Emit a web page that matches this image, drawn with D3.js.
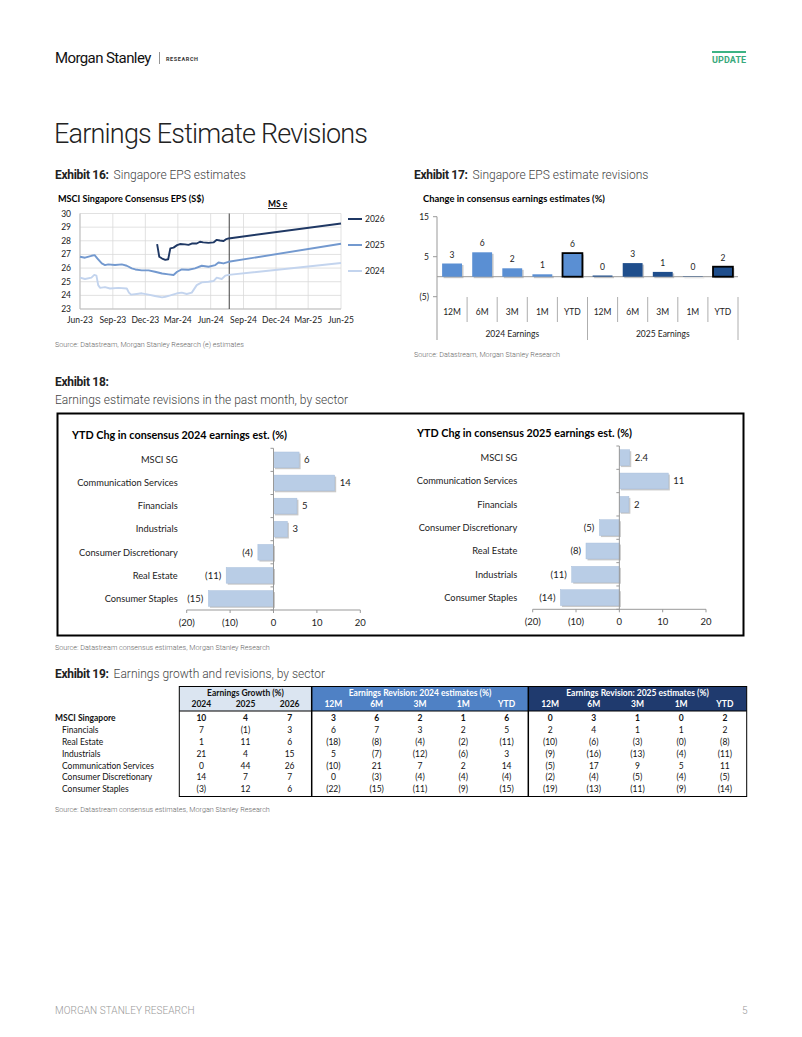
<!DOCTYPE html>
<html><head><meta charset="utf-8">
<script src="https://cdn.jsdelivr.net/npm/d3@7/dist/d3.min.js"></script>
<style>html,body{margin:0;padding:0;background:#fff}svg{display:block}</style>
</head><body>
<svg id="page" width="802" height="1037"></svg>
<script>
// ---------------- DATA ----------------
// Exhibit 16: MSCI Singapore consensus EPS (S$)
const eps2026 = [["2024-01-03",27.76],["2024-01-09",26.83],["2024-01-17",26.7],["2024-01-26",26.6],["2024-02-03",26.65],["2024-02-09",27.44],["2024-02-18",27.5],["2024-02-28",27.68],["2024-03-07",27.76],["2024-03-21",27.74],["2024-03-31",27.7],["2024-04-09",27.8],["2024-04-23",27.8],["2024-05-02",27.93],["2024-05-11",27.88],["2024-05-26",27.85],["2024-06-09",27.88],["2024-06-18",28.07],["2024-06-27",28.02],["2024-07-07",27.98],["2024-07-13",28.1],["2024-07-21",28.17],["2025-06-01",29.27]];
const eps2025 = [["2023-06-01",26.83],["2023-06-15",26.76],["2023-07-03",26.9],["2023-07-12",26.95],["2023-07-20",26.7],["2023-08-01",26.34],["2023-08-10",26.22],["2023-08-19",26.27],["2023-09-07",26.22],["2023-09-26",26.27],["2023-10-10",26.17],["2023-10-24",25.98],["2023-11-03",25.9],["2023-11-21",25.83],["2023-12-10",25.83],["2023-12-28",25.73],["2024-01-17",25.6],["2024-02-04",25.54],["2024-02-18",25.49],["2024-02-28",25.73],["2024-03-12",25.9],["2024-03-31",25.88],["2024-04-18",25.98],["2024-05-07",26.17],["2024-05-26",26.1],["2024-06-14",26.22],["2024-06-23",26.41],["2024-07-07",26.34],["2024-07-21",26.46],["2025-06-01",27.78]];
const eps2024 = [["2023-06-01",25.3],["2023-06-15",25.2],["2023-07-03",25.3],["2023-07-11",25.5],["2023-07-17",25.45],["2023-07-22",24.75],["2023-07-27",24.55],["2023-08-10",24.6],["2023-08-24",24.5],["2023-09-17",24.55],["2023-10-10",24.5],["2023-10-16",24.2],["2023-10-22",24.05],["2023-11-07",24.1],["2023-11-21",24.15],["2023-12-10",24.05],["2023-12-28",23.95],["2024-01-17",23.85],["2024-01-26",23.9],["2024-02-09",24.0],["2024-02-28",24.15],["2024-03-12",24.2],["2024-03-26",24.1],["2024-04-09",24.2],["2024-04-23",24.75],["2024-05-07",24.95],["2024-05-26",25.0],["2024-06-09",25.05],["2024-06-18",25.3],["2024-07-02",25.2],["2024-07-12",25.45],["2024-07-21",25.5],["2025-06-01",26.37]];
const epsSeriesNames = ["2026","2025","2024"];
const epsTickDates = ["2023-06-01","2023-09-01","2023-12-01","2024-03-01","2024-06-01","2024-09-01","2024-12-01","2025-03-01","2025-06-01"];
const epsTickLabels = ["Jun-23","Sep-23","Dec-23","Mar-24","Jun-24","Sep-24","Dec-24","Mar-25","Jun-25"];
const epsYTicks = [23,24,25,26,27,28,29,30];
const msEstimateStart = "2024-07-23";

// Exhibit 17: change in consensus earnings estimates (%)
const revCats = ["12M","6M","3M","1M","YTD","12M","6M","3M","1M","YTD"];
const revGroups = ["2024 Earnings","2025 Earnings"];
const revValues = [3.3,6.1,2.1,0.6,5.9,0.3,3.4,1.2,0.1,2.5];
const revLabels = ["3","6","2","1","6","0","3","1","0","2"];
const revYTicks = [-5,5,15];

// Exhibit 18: YTD change by sector
const sec24Cats = ["MSCI SG","Communication Services","Financials","Industrials","Consumer Discretionary","Real Estate","Consumer Staples"];
const sec24Values = [5.9,14.1,5.4,3.2,-3.6,-10.9,-15.0];
const sec24Labels = ["6","14","5","3","(4)","(11)","(15)"];
const sec25Cats = ["MSCI SG","Communication Services","Financials","Consumer Discretionary","Real Estate","Industrials","Consumer Staples"];
const sec25Values = [2.4,11.3,2.2,-4.6,-7.7,-11.0,-13.6];
const sec25Labels = ["2.4","11","2","(5)","(8)","(11)","(14)"];
const secXTicks = [-20,-10,0,10,20];

// Exhibit 19: table
const tblSectors = ["MSCI Singapore","Financials","Real Estate","Industrials","Communication Services","Consumer Discretionary","Consumer Staples"];
const tblGrowthCols = ["2024","2025","2026"];
const tblRevCols = ["12M","6M","3M","1M","YTD"];
const tblGrowth = [[10,4,7],[7,-1,3],[1,11,6],[21,4,15],[0,44,26],[14,7,7],[-3,12,6]];
const tblRev24 = [[3,6,2,1,6],[6,7,3,2,5],[-18,-8,-4,-2,-11],[5,-7,-12,-6,3],[-10,21,7,2,14],[0,-3,-4,-4,-4],[-22,-15,-11,-9,-15]];
const tblRev25 = [[0,3,1,0,2],[2,4,1,1,2],[-10,-6,-3,-0.2,-8],[-9,-16,-13,-4,-11],[-5,17,9,5,11],[-2,-4,-5,-4,-5],[-19,-13,-11,-9,-14]];

// ---------------- DRAW ----------------
const svg = d3.select("#page");
const R = "Roboto, 'Liberation Sans', sans-serif";
const C = "Lato, 'Open Sans', sans-serif";
const fmt = v => { const r = Math.round(v); return (v < 0) ? "(" + Math.abs(r) + ")" : String(r); };
const parse = d3.timeParse("%Y-%m-%d");

function txt(x, y, s, o = {}) {
  const t = svg.append("text").attr("x", x).attr("y", y).text(s)
    .attr("font-family", o.ff || R).attr("font-size", o.fs || 10)
    .attr("fill", o.fill || "#222");
  if (o.fw) t.attr("font-weight", o.fw);
  if (o.anchor) t.attr("text-anchor", o.anchor);
  if (o.ls !== undefined) t.attr("letter-spacing", o.ls);
  return t;
}

// Header
txt(55, 63, "Morgan Stanley", {fs: 15, ls: -0.6, fill: "#111"});
svg.append("line").attr("x1", 159.5).attr("x2", 159.5).attr("y1", 52).attr("y2", 64).attr("stroke", "#666").attr("stroke-width", 0.7);
txt(166, 60.5, "RESEARCH", {fs: 5.5, fw: 700, ls: 0.6, fill: "#333"});
svg.append("rect").attr("x", 712).attr("y", 51).attr("width", 34).attr("height", 2).attr("fill", "#3db384");
txt(712, 62.5, "UPDATE", {fs: 9, fw: 700, fill: "#3aa97c", ls: 0.1});

// Title
txt(54, 143, "Earnings Estimate Revisions", {fs: 27, fw: 300, fill: "#222", ls: -0.8});

// Exhibit headings
function exhibit(x, y, label, desc) {
  const t = svg.append("text").attr("x", x).attr("y", y).attr("font-family", R).attr("font-size", 12);
  t.append("tspan").attr("font-weight", 700).attr("fill", "#222").attr("letter-spacing", -0.3).text(label);
  t.append("tspan").attr("font-weight", 300).attr("fill", "#444").attr("dx", 5).text(desc);
}
exhibit(55, 178.5, "Exhibit 16:", "Singapore EPS estimates");
exhibit(414, 178.5, "Exhibit 17:", "Singapore EPS estimate revisions");
txt(55, 385.5, "Exhibit 18:", {fs: 12, fw: 700, ls: -0.3});
txt(55, 403.5, "Earnings estimate revisions in the past month, by sector", {fs: 12, fw: 300, fill: "#444"});
exhibit(55, 677.5, "Exhibit 19:", "Earnings growth and revisions, by sector");

// Sources
const srcO = {fs: 7.2, fill: "#666", fw: 300};
txt(55, 346.5, "Source: Datastream, Morgan Stanley Research (e) estimates", srcO);
txt(414, 357, "Source: Datastream, Morgan Stanley Research", srcO);
txt(55, 649.5, "Source: Datastream consensus estimates, Morgan Stanley Research", srcO);
txt(55, 812, "Source: Datastream consensus estimates, Morgan Stanley Research", srcO);

// Footer
txt(55, 1013.5, "MORGAN STANLEY RESEARCH", {fs: 10, fw: 300, fill: "#999", ls: 0.05});
txt(742, 1013.5, "5", {fs: 10, fw: 300, fill: "#999"});

// ---------- Exhibit 16: line chart ----------
(function () {
  const x = d3.scaleTime().domain([parse("2023-06-01"), parse("2025-06-01")]).range([80, 341]);
  const y = d3.scaleLinear().domain([23, 30]).range([309, 213.5]);
  const g = svg.append("g");
  txt(58, 201.5, "MSCI Singapore Consensus EPS (S$)", {ff: C, fs: 9.1, fw: 700, fill: "#000"});
  // grid
  g.selectAll(".hg").data(epsYTicks).join("line")
    .attr("x1", x.range()[0]).attr("x2", x.range()[1])
    .attr("y1", d => y(d)).attr("y2", d => y(d)).attr("stroke", "#d9d9d9").attr("stroke-width", 0.8);
  g.selectAll(".vg").data(epsTickDates).join("line")
    .attr("x1", d => x(parse(d))).attr("x2", d => x(parse(d)))
    .attr("y1", y(30)).attr("y2", y(23)).attr("stroke", "#d9d9d9").attr("stroke-width", 0.8);
  // axes
  g.append("line").attr("x1", 80).attr("x2", 80).attr("y1", y(30)).attr("y2", y(23)).attr("stroke", "#bfbfbf");
  g.append("line").attr("x1", 80).attr("x2", 341).attr("y1", y(23)).attr("y2", y(23)).attr("stroke", "#bfbfbf");
  g.selectAll(".yl").data(epsYTicks).join("text")
    .attr("x", 71).attr("y", d => y(d) + 3).attr("text-anchor", "end")
    .attr("font-family", C).attr("font-size", 8.5).attr("fill", "#222").text(d => d);
  g.selectAll(".xl").data(epsTickDates).join("text")
    .attr("x", d => x(parse(d))).attr("y", 323).attr("text-anchor", "middle")
    .attr("font-family", C).attr("font-size", 8.5).attr("fill", "#222").text((d, i) => epsTickLabels[i]);
  // MS e marker
  const ex = x(parse(msEstimateStart));
  g.append("line").attr("x1", ex).attr("x2", ex).attr("y1", y(30)).attr("y2", y(23)).attr("stroke", "#404040").attr("stroke-width", 1);
  txt(268, 207, "MS e", {ff: C, fs: 8.5, fw: 700, fill: "#000"}).attr("text-decoration", "underline");
  // lines
  const colors = ["#1f3864", "#7399cf", "#c3d4ee"];
  const series = [eps2026, eps2025, eps2024];
  const line = d3.line().x(d => x(parse(d[0]))).y(d => y(d[1]));
  [2, 1, 0].forEach(i => {
    g.append("path").datum(series[i]).attr("d", line).attr("fill", "none")
      .attr("stroke", colors[i]).attr("stroke-width", 1.9).attr("stroke-linejoin", "round");
  });
  // legend
  epsSeriesNames.forEach((n, i) => {
    const ly = 219 + i * 26;
    g.append("line").attr("x1", 348).attr("x2", 362).attr("y1", ly).attr("y2", ly).attr("stroke", colors[i]).attr("stroke-width", 2);
    txt(365, ly + 3, n, {ff: C, fs: 8.5, fill: "#222"});
  });
})();

// ---------- Exhibit 17: bar chart ----------
(function () {
  const x = d3.scaleBand().domain(d3.range(revCats.length)).range([437, 738]).paddingInner(0.34).paddingOuter(0.17);
  const y = d3.scaleLinear().domain([-5, 15]).range([296.7, 216.7]);
  const g = svg.append("g");
  txt(423, 201.5, "Change in consensus earnings estimates (%)", {ff: C, fs: 9.4, fw: 700, fill: "#000"});
  // axes
  g.append("line").attr("x1", 437).attr("x2", 437).attr("y1", y(15)).attr("y2", 340).attr("stroke", "#999");
  g.selectAll(".yt").data(revYTicks).join("line").attr("x1", 433).attr("x2", 437)
    .attr("y1", d => y(d)).attr("y2", d => y(d)).attr("stroke", "#999");
  g.selectAll(".yl").data(revYTicks).join("text").attr("x", 429).attr("y", d => y(d) + 3)
    .attr("text-anchor", "end").attr("font-family", C).attr("font-size", 8.5).attr("fill", "#222")
    .text(d => d < 0 ? "(" + Math.abs(d) + ")" : d);
  // separators
  d3.range(1, revCats.length + 1).forEach(i => {
    const sx = 437 + i * (301 / revCats.length);
    const long = (i === 5 || i === 10);
    g.append("line").attr("x1", sx).attr("x2", sx).attr("y1", 297).attr("y2", long ? 340 : 322).attr("stroke", "#999").attr("stroke-width", 0.8);
  });
  g.selectAll(".cl").data(revCats).join("text")
    .attr("x", (d, i) => x(i) + x.bandwidth() / 2).attr("y", 315).attr("text-anchor", "middle")
    .attr("font-family", C).attr("font-size", 8.5).attr("fill", "#222").text(d => d);
  revGroups.forEach((gname, gi) => {
    txt(437 + (gi + 0.5) * 150.5, 337, gname, {ff: C, fs: 8.5, fill: "#222", anchor: "middle"});
  });
  // shadows + bars
  const fill = i => i < 5 ? "#5a8fd3" : "#1f4e8c";
  g.selectAll(".sh").data(revValues).join("rect")
    .attr("x", (d, i) => x(i) + 1.5).attr("width", x.bandwidth())
    .attr("y", d => Math.min(y(d), y(0)) + 1.5).attr("height", d => Math.abs(y(d) - y(0)))
    .attr("fill", "#c8c8c8");
  g.append("line").attr("x1", 437).attr("x2", 738).attr("y1", y(0)).attr("y2", y(0)).attr("stroke", "#999");
  g.selectAll(".bar").data(revValues).join("rect")
    .attr("x", (d, i) => x(i)).attr("width", x.bandwidth())
    .attr("y", d => Math.min(y(d), y(0))).attr("height", d => Math.abs(y(d) - y(0)))
    .attr("fill", (d, i) => fill(i))
    .attr("stroke", (d, i) => revCats[i] === "YTD" ? "#000" : "none")
    .attr("stroke-width", 1.8);
  g.selectAll(".vl").data(revValues).join("text")
    .attr("x", (d, i) => x(i) + x.bandwidth() / 2).attr("y", d => y(Math.max(d, 0)) - 6)
    .attr("text-anchor", "middle").attr("font-family", C).attr("font-size", 8.5).attr("fill", "#222")
    .text((d, i) => revLabels[i]);
})();

// ---------- Exhibit 18: horizontal bars ----------
svg.append("rect").attr("x", 57.5).attr("y", 413.5).attr("width", 686).attr("height", 222).attr("fill", "none").attr("stroke", "#000").attr("stroke-width", 2);

function hbar(cfg) {
  const x = d3.scaleLinear().domain([-20, 20]).range([cfg.x0, cfg.x1]);
  const y = d3.scaleBand().domain(cfg.cats).range([cfg.y0, cfg.y1]).paddingInner(0.32).paddingOuter(0.16);
  const g = svg.append("g");
  txt(cfg.tx, cfg.ty, cfg.title, {ff: C, fs: 10.8, fw: 700, fill: "#000"});
  // bottom axis
  g.append("line").attr("x1", cfg.x0).attr("x2", cfg.x1).attr("y1", cfg.y1).attr("y2", cfg.y1).attr("stroke", "#999");
  g.selectAll(".xt").data(secXTicks).join("line").attr("x1", d => x(d)).attr("x2", d => x(d))
    .attr("y1", cfg.y1).attr("y2", cfg.y1 + 3).attr("stroke", "#999");
  g.selectAll(".xl").data(secXTicks).join("text").attr("x", d => x(d)).attr("y", cfg.y1 + 16)
    .attr("text-anchor", "middle").attr("font-family", C).attr("font-size", 9.5).attr("fill", "#222")
    .text(d => d < 0 ? "(" + Math.abs(d) + ")" : d);
  // shadows
  g.selectAll(".sh").data(cfg.values).join("rect")
    .attr("x", d => Math.min(x(d), x(0)) + 1.5).attr("width", d => Math.abs(x(d) - x(0)))
    .attr("y", (d, i) => y(cfg.cats[i]) + 1.5).attr("height", y.bandwidth()).attr("fill", "#c9c9c9");
  g.selectAll(".bar").data(cfg.values).join("rect")
    .attr("x", d => Math.min(x(d), x(0))).attr("width", d => Math.abs(x(d) - x(0)))
    .attr("y", (d, i) => y(cfg.cats[i])).attr("height", y.bandwidth())
    .attr("fill", "#b9cde6").attr("stroke", "#a9bfdc").attr("stroke-width", 0.5);
  // zero axis + category ticks
  g.append("line").attr("x1", x(0)).attr("x2", x(0)).attr("y1", cfg.y0).attr("y2", cfg.y1).attr("stroke", "#999");
  d3.range(cfg.cats.length + 1).forEach(i => {
    const ty = cfg.y0 + i * (cfg.y1 - cfg.y0) / cfg.cats.length;
    g.append("line").attr("x1", x(0) - 3).attr("x2", x(0)).attr("y1", ty).attr("y2", ty).attr("stroke", "#999");
  });
  g.selectAll(".cl").data(cfg.cats).join("text").attr("x", cfg.lx).attr("y", d => y(d) + y.bandwidth() / 2 + 3.3)
    .attr("text-anchor", "end").attr("font-family", C).attr("font-size", 9.3).attr("fill", "#222").text(d => d);
  g.selectAll(".vl").data(cfg.values).join("text")
    .attr("x", d => d >= 0 ? x(d) + 5 : x(d) - 5).attr("y", (d, i) => y(cfg.cats[i]) + y.bandwidth() / 2 + 3.3)
    .attr("text-anchor", d => d >= 0 ? "start" : "end").attr("font-family", C).attr("font-size", 9.5).attr("fill", "#222")
    .text((d, i) => cfg.labels[i]);
}
hbar({cats: sec24Cats, values: sec24Values, labels: sec24Labels, title: "YTD Chg in consensus 2024 earnings est. (%)",
  x0: 186.7, x1: 360.3, y0: 448.3, y1: 610, tx: 72, ty: 439, lx: 177.7});
hbar({cats: sec25Cats, values: sec25Values, labels: sec25Labels, title: "YTD Chg in consensus 2025 earnings est. (%)",
  x0: 532.7, x1: 706, y0: 446, y1: 609.3, tx: 417, ty: 436.5, lx: 517.3});

// ---------- Exhibit 19: table ----------
(function () {
  const g = svg.append("g");
  const top = 686.5, h2 = 711, bottom = 796.5;
  const secs = [
    {x0: 179.3, x1: 311.7, title: "Earnings Growth (%)", cols: tblGrowthCols, data: tblGrowth, bg: "#dbe5f1", fc: "#111"},
    {x0: 311.7, x1: 528.3, title: "Earnings Revision: 2024 estimates (%)", cols: tblRevCols, data: tblRev24, bg: "#4f81c5", fc: "#fff"},
    {x0: 528.3, x1: 746.7, title: "Earnings Revision: 2025 estimates (%)", cols: tblRevCols, data: tblRev25, bg: "#1f3a6e", fc: "#fff"}
  ];
  const rowY = d3.scaleBand().domain(d3.range(tblSectors.length)).range([712.5, 795]);
  secs.forEach(s => {
    g.append("rect").attr("x", s.x0).attr("y", top).attr("width", s.x1 - s.x0).attr("height", h2 - top).attr("fill", s.bg);
    txt((s.x0 + s.x1) / 2, 695.5, s.title, {ff: C, fs: 8.5, fw: 700, fill: s.fc, anchor: "middle"});
    const cx = d3.scaleBand().domain(s.cols).range([s.x0, s.x1]);
    s.cols.forEach(c => txt(cx(c) + cx.bandwidth() / 2, 707.3, c, {ff: C, fs: 8.5, fw: 700, fill: s.fc, anchor: "middle"}));
    s.data.forEach((row, ri) => {
      row.forEach((v, ci) => {
        txt(cx(s.cols[ci]) + cx.bandwidth() / 2, rowY(ri) + rowY.bandwidth() / 2 + 3, fmt(v),
          {ff: C, fs: 8.5, fw: ri === 0 ? 700 : 400, fill: "#111", anchor: "middle"});
      });
    });
  });
  tblSectors.forEach((s, ri) => {
    txt(ri === 0 ? 55 : 62, rowY(ri) + rowY.bandwidth() / 2 + 3, s, {ff: C, fs: 8.5, fw: ri === 0 ? 700 : 400, fill: "#111"});
  });
  // borders
  g.append("rect").attr("x", 179.3).attr("y", top).attr("width", 746.7 - 179.3).attr("height", bottom - top)
    .attr("fill", "none").attr("stroke", "#000").attr("stroke-width", 1);
  g.append("line").attr("x1", 179.3).attr("x2", 746.7).attr("y1", h2).attr("y2", h2).attr("stroke", "#000").attr("stroke-width", 1);
  [311.7, 528.3].forEach(lx => g.append("line").attr("x1", lx).attr("x2", lx).attr("y1", top).attr("y2", bottom).attr("stroke", "#000").attr("stroke-width", 1.5));
})();
</script>
</body></html>
